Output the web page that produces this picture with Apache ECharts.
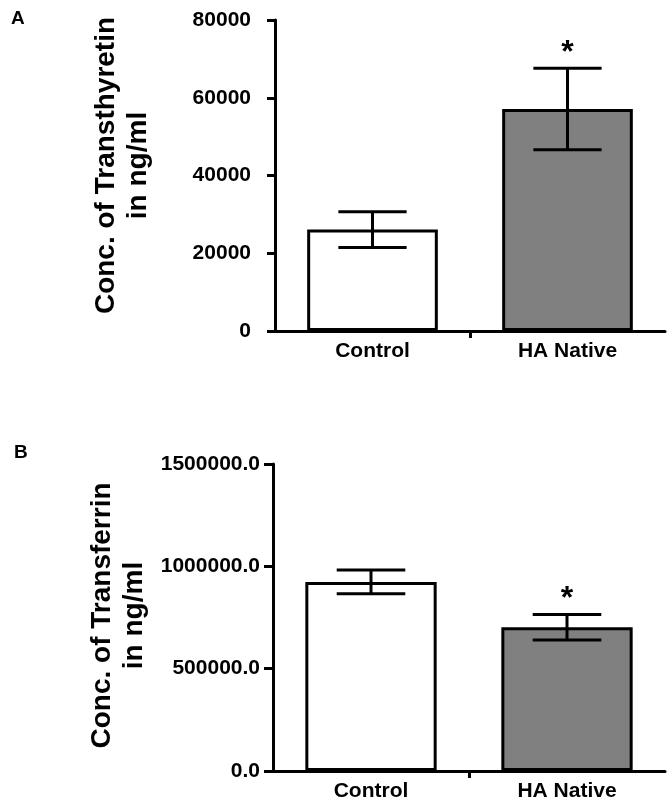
<!DOCTYPE html>
<html>
<head>
<meta charset="utf-8">
<script src="https://cdn.jsdelivr.net/npm/echarts@6/dist/echarts.min.js"></script>
<style>
  html, body { margin: 0; padding: 0; background: #fff; }
  #chart { width: 672px; height: 811px; }
</style>
</head>
<body>
<div id="chart"></div>
<script>
// data
const categories = ["Control", "HA Native"];
const barColors = ["#ffffff", "#808080"];
const sigMarks = ["", "*"];

// A: transthyretin (ng/ml), mean and error
const ttrMean = [26100, 57100];
const ttrErr = [4600, 10500];
const ttrMax = 80000;
const ttrStep = 20000;

// B: transferrin (ng/ml), mean and error
const tfMean = [924000, 702500];
const tfErr = [58000, 62500];
const tfMax = 1500000;
const tfStep = 500000;

const FONT = "Liberation Sans";
const chart = echarts.init(document.getElementById("chart"));

let makeBars = (means, grid) => ({
  type: "bar",
  xAxisIndex: grid,
  yAxisIndex: grid,
  barWidth: "67%",
  data: means.map((v, i) => ({
    value: v,
    itemStyle: { color: barColors[i], borderColor: "#000", borderWidth: 3 },
  })),
  z: 2,
});

let makeErrors = (means, errs, grid) => ({
  type: "custom",
  xAxisIndex: grid,
  yAxisIndex: grid,
  z: 5,
  data: means.map((m, i) => [i, m, errs[i]]),
  renderItem: (params, api) => {
    const i = api.value(0);
    const m = api.value(1);
    const e = api.value(2);
    const hi = api.coord([i, m + e]);
    const lo = api.coord([i, m - e]);
    const half = api.size([1, 0])[0] * 0.175;
    const line = { stroke: "#000", lineWidth: 3 };
    return {
      type: "group",
      children: [
        { type: "line", shape: { x1: hi[0], y1: hi[1], x2: lo[0], y2: lo[1] }, style: line },
        { type: "line", shape: { x1: hi[0] - half, y1: hi[1], x2: hi[0] + half, y2: hi[1] }, style: line },
        { type: "line", shape: { x1: lo[0] - half, y1: lo[1], x2: lo[0] + half, y2: lo[1] }, style: line },
        {
          type: "text",
          style: {
            text: sigMarks[params.dataIndex],
            x: hi[0],
            y: hi[1] - 15,
            align: "center",
            verticalAlign: "middle",
            font: "bold 32px " + FONT,
            fill: "#000",
          },
        },
      ],
    };
  },
});

let catAxis = (grid) => ({
  type: "category",
  gridIndex: grid,
  data: categories,
  boundaryGap: true,
  axisLine: { lineStyle: { color: "#000", width: 3 } },
  axisTick: { show: false },
  axisLabel: { color: "#000", fontFamily: FONT, fontWeight: "bold", fontSize: 21, margin: 10 },
});

// only the middle tick under the x axis
let tickAxis = (grid) => ({
  type: "value",
  gridIndex: grid,
  min: 0,
  max: 2,
  position: "bottom",
  axisLine: { show: false },
  axisLabel: { show: false },
  splitLine: { show: false },
  axisTick: { show: true, customValues: [1], length: 7, lineStyle: { color: "#000", width: 3 } },
});

let valAxis = (grid, max, step, name, fmt, margin, tickLen, gap, pad) => ({
  type: "value",
  gridIndex: grid,
  min: 0,
  max: max,
  interval: step,
  name: name,
  nameLocation: "middle",
  nameRotate: 90,
  nameGap: gap,
  nameTextStyle: {
    color: "#000", fontFamily: FONT, fontWeight: "bold", fontSize: 28,
    lineHeight: 32, align: "center", padding: pad,
  },
  axisLine: { show: true, lineStyle: { color: "#000", width: 3 } },
  axisTick: { show: true, length: tickLen, lineStyle: { color: "#000", width: 3 } },
  splitLine: { show: false },
  axisLabel: {
    color: "#000", fontFamily: FONT, fontWeight: "bold", fontSize: 21, margin: margin,
    formatter: fmt,
  },
});

let option = {
  animation: false,
  backgroundColor: "#fff",
  title: [
    { text: "A", left: 6, top: 4, textStyle: { fontFamily: FONT, fontWeight: "bold", fontSize: 19, color: "#000" } },
    { text: "B", left: 9, top: 438, textStyle: { fontFamily: FONT, fontWeight: "bold", fontSize: 19, color: "#000" } },
  ],
  grid: [
    { left: 275, right: 7, top: 20, height: 311 },
    { left: 273, right: 7, top: 464, height: 307 },
  ],
  xAxis: [catAxis(0), catAxis(1), tickAxis(0), tickAxis(1)],
  yAxis: [
    valAxis(0, ttrMax, ttrStep, "Conc. of Transthyretin\nin ng/ml", (v) => String(v), 24, 8, 121, [0, 0, 0, 20]),
    valAxis(1, tfMax, tfStep, "Conc. of Transferrin\nin ng/ml", (v) => v.toFixed(1), 13, 9, 119, [0, 0, 0, 4]),
  ],
  series: [
    makeBars(ttrMean, 0),
    makeErrors(ttrMean, ttrErr, 0),
    makeBars(tfMean, 1),
    makeErrors(tfMean, tfErr, 1),
  ],
};

chart.setOption(option);
</script>
</body>
</html>
